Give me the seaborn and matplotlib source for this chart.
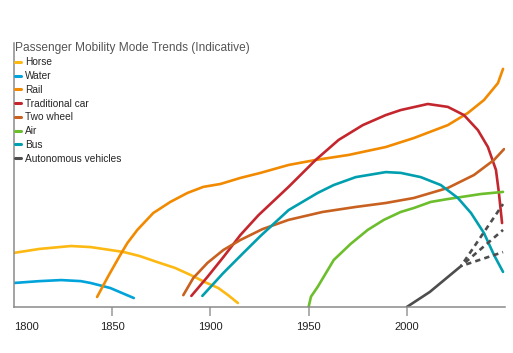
import matplotlib
matplotlib.use('Agg')
import matplotlib.pyplot as plt
import seaborn as sns

sns.set_style('white')
plt.rcParams['font.family'] = ['Liberation Sans', 'DejaVu Sans']

# values (indicative share, 0-100)
horse_year = [1800, 1813, 1829, 1839, 1849, 1856, 1864, 1873, 1882, 1890, 1897, 1904, 1909, 1914]
horse_val = [20.5, 22.0, 23.1, 22.7, 21.6, 20.8, 19.3, 17.0, 14.8, 12.1, 9.5, 7.2, 4.5, 1.5]

water_year = [1800, 1813, 1824, 1834, 1839, 1849, 1861]
water_val = [9.1, 9.8, 10.2, 9.8, 9.1, 7.2, 3.4]

rail_year = [1842.3, 1848, 1854.1, 1857.7, 1862.8, 1870.9, 1879.6, 1888.3, 1896.4, 1905.1,
             1915.3, 1925.5, 1939.8, 1953.6, 1970.4, 1989.3, 2003.6, 2020.9, 2031.1,
             2039.3, 2046.4, 2049]
rail_val = [3.8, 11.7, 19.7, 24.2, 29.2, 35.6, 39.8, 43.2, 45.5, 46.6,
            48.9, 50.8, 53.8, 55.7, 57.6, 60.6, 64.0, 68.9, 73.5,
            78.4, 84.8, 90.2]

car_year = [1890.3, 1898.5, 1906.6, 1915.3, 1924.5, 1939.8, 1953.6, 1965.3, 1977.6, 1989.3,
            1996.9, 2010.7, 2020.9, 2029.1, 2036.2, 2041.3, 2045.4, 2046.9, 2048.5]
car_val = [4.2, 11.4, 18.9, 27.3, 34.8, 45.5, 55.7, 63.3, 68.9, 72.7,
           74.6, 76.9, 75.8, 72.7, 67.0, 60.6, 51.9, 43.2, 31.8]

twowheel_year = [1886.2, 1891.3, 1898.5, 1906.6, 1915.3, 1926.5, 1939.8, 1957.1, 1974.0,
                 1989.3, 2003.6, 2020.9, 2034.2, 2044.4, 2049.5]
twowheel_val = [4.5, 11.0, 16.7, 21.6, 25.4, 29.5, 33.0, 36.0, 37.9,
                39.4, 41.3, 45.1, 50.0, 55.7, 59.8]

air_year = [1950, 1951.2, 1954.6, 1962.8, 1971.4, 1980.1, 1988.3, 1996.9, 2003.6, 2012.2,
            2020.9, 2037.8, 2049]
air_val = [0.0, 3.9, 7.6, 17.8, 23.9, 29.2, 33.0, 36.0, 37.5, 39.8,
           40.9, 42.8, 43.6]

bus_year = [1895.9, 1906.6, 1916.8, 1925.5, 1939.8, 1954.6, 1962.8, 1974.0, 1989.3, 1996.9,
            2007.1, 2017.3, 2026.0, 2032.7, 2039.3, 2044.4, 2049]
bus_val = [4.2, 12.9, 20.5, 26.9, 36.7, 43.2, 46.2, 49.2, 51.1, 50.8,
           49.2, 46.2, 41.3, 35.6, 28.0, 19.7, 13.3]

auto_year = [2000, 2011.7, 2027.6]
auto_val = [0.0, 5.7, 15.5]
# three indicative scenarios after 2028
auto_scen_year = [2027.6, 2049]
auto_scen_high = [15.5, 39.0]
auto_scen_mid = [15.5, 29.2]
auto_scen_low = [15.5, 20.8]

series = [
    ('Horse', horse_year, horse_val, '#FDB913'),
    ('Water', water_year, water_val, '#00A3DA'),
    ('Rail', rail_year, rail_val, '#F18A00'),
    ('Traditional car', car_year, car_val, '#C4262E'),
    ('Two wheel', twowheel_year, twowheel_val, '#C8611F'),
    ('Air', air_year, air_val, '#6DBE2D'),
    ('Bus', bus_year, bus_val, '#009FAF'),
    ('Autonomous vehicles', auto_year, auto_val, '#4D4D4D'),
]

fig, ax = plt.subplots(figsize=(5.13, 3.53), dpi=100)
fig.subplots_adjust(left=14/513, right=505/513, bottom=46/353, top=310/353)

for name, yrs, vals, col in series:
    sns.lineplot(x=yrs, y=vals, color=col, linewidth=1.9, label=name, ax=ax)

for scen in [auto_scen_high, auto_scen_mid, auto_scen_low]:
    sns.lineplot(x=auto_scen_year, y=scen, color='#4D4D4D', linewidth=1.9,
                 linestyle=(1.5, (2.0, 1.6)), ax=ax)

ax.set_xlim(1800, 2050)
ax.set_ylim(0, 100)
ax.set_yticks([])
ax.set_xticks([1800, 1850, 1900, 1950, 2000])
ax.set_xticklabels(['1800', '1850', '1900', '1950', '2000'])
ax.tick_params(axis='x', length=6.5, width=1.1, color='#999999', pad=4,
               labelsize=8, labelcolor='#222222', bottom=True)
ax.get_xticklabels()[0].set_ha('left')
ax.xaxis.get_major_ticks()[0].tick1line.set_visible(False)

for side in ['top', 'right']:
    ax.spines[side].set_visible(False)
for side in ['left', 'bottom']:
    ax.spines[side].set_color('#8a8a8a')
    ax.spines[side].set_linewidth(1.1)

leg = ax.legend(loc='upper left', bbox_to_anchor=(0.0, 1.009), frameon=False,
                fontsize=7.3, handlelength=0.6, handletextpad=0.4,
                labelspacing=0.37, borderaxespad=0, borderpad=0.1,
                title='Passenger Mobility Mode Trends (Indicative)',
                title_fontsize=8.6, alignment='left')
leg.get_title().set_color('#555555')
for h in leg.get_lines():
    h.set_linewidth(2.2)

ax.set_xlabel('')
ax.set_ylabel('')

fig.savefig('out.png', dpi=100)
